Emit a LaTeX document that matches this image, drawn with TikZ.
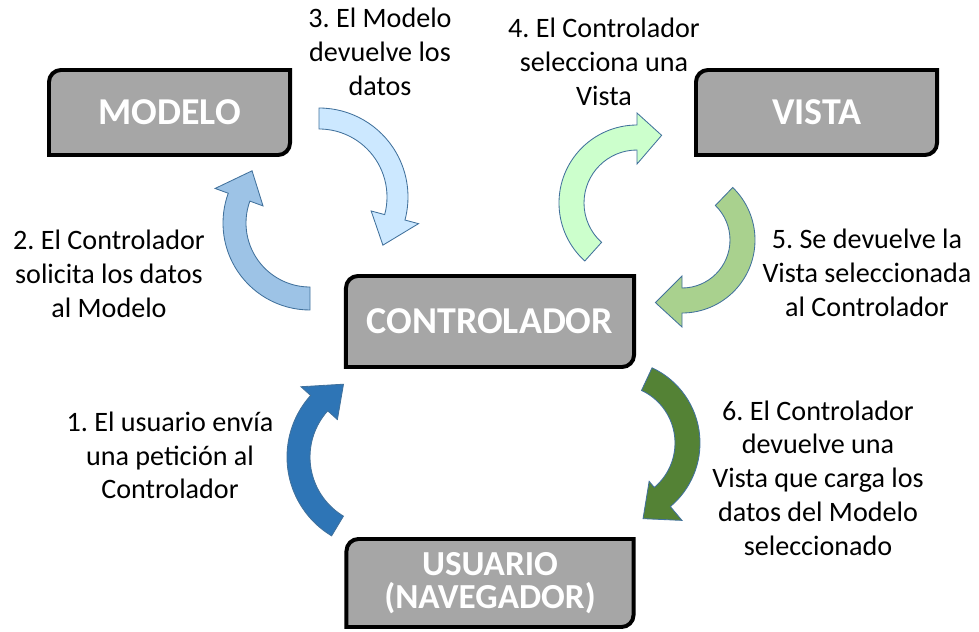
\documentclass[tikz,border=0pt]{standalone}
\usepackage{fontspec}
\setmainfont{Carlito}
\usepackage{tikz}
\usetikzlibrary{calc,backgrounds}
\frenchspacing

\definecolor{gris}{HTML}{A6A6A6}
\definecolor{borde}{HTML}{41719C}
\definecolor{azul}{HTML}{2E75B6}
\definecolor{azulmedio}{HTML}{9DC3E6}
\definecolor{celeste}{HTML}{CCE8FF}
\definecolor{verdeclaro}{HTML}{CCFFCC}
\definecolor{verdemedio}{HTML}{A9D18E}
\definecolor{verde}{HTML}{548235}

\begin{document}
\begin{tikzpicture}[x=0.025cm, y=0.025cm,
  caja/.style={text=white, font=\bfseries\fontsize{27}{30}\selectfont, align=center, inner sep=0pt, outer sep=0pt},
  texto/.style={font=\fontsize{20}{24}\selectfont, align=center},
  flecha/.style={draw=borde, line width=0.6pt, line join=miter}]
\useasboundingbox (0,0) rectangle (979,-631);

% Bloques
\node[caja, minimum width=6.025cm, minimum height=2.125cm] (mod) at (169.5,-112.5) {MODELO};
\node[caja, minimum width=6.025cm, minimum height=2.125cm] (vis) at (816.5,-112.5) {VISTA};
\node[caja, minimum width=7.2cm, minimum height=2.275cm] (ctl) at (490,-321.5) {CONTROLADOR};
\node[caja, minimum width=7.175cm, minimum height=2.2cm, font=\bfseries\fontsize{25}{24}\selectfont] (usr) at (490,-583) {USUARIO\\(NAVEGADOR)};

% Fondo de los bloques
\begin{scope}[on background layer]
\foreach \b in {mod,vis,ctl,usr}
  \draw[line width=2.8pt, fill=gris] (\b.south west) -- ([yshift=-0.3cm]\b.north west) arc[start angle=180, end angle=90, radius=0.3cm] -- (\b.north east) -- ([yshift=0.3cm]\b.south east) arc[start angle=0, end angle=-90, radius=0.3cm] -- cycle;
\end{scope}

% Flechas curvas
\coordinate (c1) at (379,-457);
\coordinate (c2) at (310,-223);
\coordinate (c3) at (319,-197);
\coordinate (c4) at (637,-203);
\coordinate (c5) at (682,-240);
\coordinate (c6) at (617,-443);
\draw[flecha, fill=azul] ($(c1)+(239:92)$) arc[start angle=239, end angle=138, radius=92] -- ($(c1)+(138:105)$) -- ($(c1)+(116:81)$) -- ($(c1)+(138:56)$) -- ($(c1)+(138:69)$) arc[start angle=138, end angle=239, radius=69] -- cycle;
\draw[flecha, fill=azulmedio] ($(c2)+(270:87)$) arc[start angle=270, end angle=160, radius=87] -- ($(c2)+(160:101)$) -- ($(c2)+(138:78)$) -- ($(c2)+(160:50)$) -- ($(c2)+(160:64)$) arc[start angle=160, end angle=270, radius=64] -- cycle;
\draw[flecha, fill=celeste] ($(c3)+(90:89)$) arc[start angle=90, end angle=-15, radius=89] -- ($(c3)+(-15:103)$) -- ($(c3)+(-37:80)$) -- ($(c3)+(-15:54)$) -- ($(c3)+(-15:68)$) arc[start angle=-15, end angle=90, radius=68] -- cycle;
\draw[flecha, fill=verdeclaro] ($(c4)+(228:78)$) arc[start angle=228, end angle=90, radius=78] -- ($(c4)+(90:90)$) -- ($(c4)+(70:72)$) -- ($(c4)+(90:39)$) -- ($(c4)+(90:53)$) arc[start angle=90, end angle=228, radius=53] -- cycle;
\draw[flecha, fill=verdemedio] ($(c5)+(46:73)$) arc[start angle=46, end angle=-90, radius=73] -- ($(c5)+(-90:87)$) -- ($(c5)+(-113:68)$) -- ($(c5)+(-90:36)$) -- ($(c5)+(-90:48)$) arc[start angle=-90, end angle=46, radius=48] -- cycle;
\draw[flecha, fill=verde] ($(c6)+(65:83)$) arc[start angle=65, end angle=-50, radius=83] -- ($(c6)+(-50:101)$) -- ($(c6)+(-71:80)$) -- ($(c6)+(-50:50)$) -- ($(c6)+(-50:58)$) arc[start angle=-50, end angle=65, radius=58] -- cycle;

% Textos
\node[texto] (p1) at (170,-455.5) {1. El usuario envía\\una petición al\\Controlador};
\node[texto] (p2) at (109,-274) {2. El Controlador\\solicita los datos\\al Modelo};
\node[texto] (p3) at (380,-52) {3. El Modelo\\devuelve los\\datos};
\node[texto] (p4) at (604,-62) {4. El Controlador\\selecciona una\\Vista};
\node[texto] (p5) at (867,-273) {5. Se devuelve la\\Vista seleccionada\\al Controlador};
\node[texto] (p6) at (818,-478) {6. El Controlador\\devuelve una\\Vista que carga los\\datos del Modelo\\seleccionado};
\end{tikzpicture}
\end{document}
